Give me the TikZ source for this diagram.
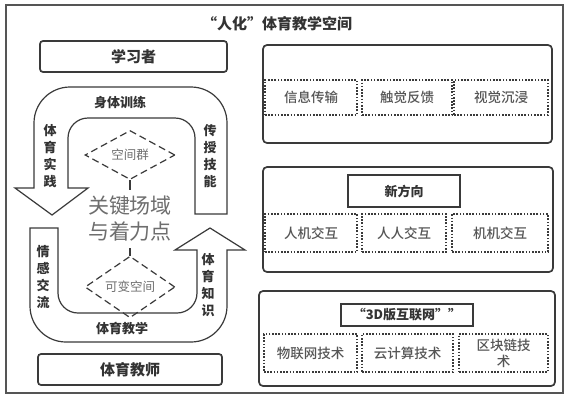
\documentclass[tikz,border=0pt]{standalone}
\usepackage{fontspec}
\setmainfont{Noto Sans CJK SC}
\newfontfamily\medfont{Noto Sans CJK SC Medium}
\usetikzlibrary{shapes.geometric}
\definecolor{lc}{HTML}{3A3A3A}
\definecolor{tc}{HTML}{333333}
\definecolor{gc}{HTML}{555555}
\definecolor{lg}{HTML}{6E6E6E}
\begin{document}
\begin{tikzpicture}[x=1pt,y=-1pt,
  panel/.style={draw=lc, line width=1.7pt, rounded corners=4pt, inner sep=0pt},
  solidbox/.style={draw=lc, line width=1.7pt, rounded corners=3pt, inner sep=0pt, font=\fontsize{15}{16}\selectfont\bfseries, text=tc},
  headbox/.style={draw=lc, line width=1.6pt, inner sep=0pt, font=\fontsize{13}{14}\selectfont\bfseries, text=tc},
  dotbox/.style={draw=lc, line width=1.6pt, dash pattern=on 1.6pt off 1.6pt, inner sep=0pt, align=center, font=\fontsize{13.5}{16}\medfont, text=gc},
  lbl/.style={font=\fontsize{13}{14}\selectfont\bfseries, text=tc, inner sep=0pt},
  vlbl/.style={font=\fontsize{13}{17}\selectfont\bfseries, text=tc, align=center, inner sep=0pt},
  dia/.style={diamond, draw=lc, line width=1.2pt, dash pattern=on 7pt off 4pt, inner sep=0pt, font=\fontsize{12.5}{13}\selectfont, text=lg},
  band/.style={draw=lc, line width=1.2pt, fill=white, line join=miter}]
\useasboundingbox (0,0) rectangle (571,400);
\fill[white] (0,0) rectangle (571,400);
% outer frame
\node[draw=gc, line width=1.2pt, minimum width=557pt, minimum height=388pt, inner sep=0pt] (frame) at (284.5,199) {};
\node[font=\fontsize{15}{16}\selectfont\bfseries, text=tc] (title) at (277,24) {“人化”体育教学空间};
% left boxes
\node[solidbox, minimum width=187pt, minimum height=31pt] (learner) at (133.5,56.5) {学习者};
\node[solidbox, minimum width=184pt, minimum height=31pt] (teacher) at (130,369.5) {体育教师};
% upper arrow
\draw[band] (195,214) -- (227,214) -- (227,123) arc[start angle=0, end angle=-90, radius=36]
  -- (70,87) arc[start angle=270, end angle=180, radius=36]
  -- (34,188) -- (15,188) -- (52,215) -- (88,188) -- (68,188)
  -- (68,138) arc[start angle=180, end angle=270, radius=20]
  -- (175,118) arc[start angle=270, end angle=360, radius=20] -- cycle;
% lower arrow
\draw[band] (30,228) -- (58,228) -- (58,293) arc[start angle=180, end angle=90, radius=20]
  -- (177,313) arc[start angle=90, end angle=0, radius=20]
  -- (197,250) -- (175,250) -- (210,228) -- (245,250) -- (227,250)
  -- (227,306) arc[start angle=0, end angle=90, radius=36]
  -- (66,342) arc[start angle=90, end angle=180, radius=36] -- cycle;
% arrow labels
\node[lbl] (l1) at (120,103) {身体训练};
\node[vlbl] (l2) at (50,156) {体\\育\\实\\践};
\node[vlbl] (l3) at (210,156) {传\\授\\技\\能};
\node[vlbl] (l4) at (43,277) {情\\感\\交\\流};
\node[vlbl] (l5) at (208,285) {体\\育\\知\\识};
\node[lbl] (l6) at (122,328) {体育教学};
% center
\node[dia, minimum width=90pt, minimum height=40pt] (d1) at (130,155) {空间群};
\node[dia, minimum width=90pt, minimum height=42pt] (d2) at (130,287) {可变空间};
\node[font=\fontsize{21}{26}\selectfont, text=lg, align=center, inner sep=0pt, minimum height=58pt] (key) at (130,219) {关键场域\\与着力点};
\draw[lc, line width=1.2pt] (d1.south) -- (key.north);
\draw[lc, line width=1.2pt] (key.south) -- (d2.north);
% panel 1
\node[panel, minimum width=289pt, minimum height=98pt] (p1) at (407.5,94) {};
\node[dotbox, minimum width=92pt, minimum height=35pt] (a1) at (311,97.5) {信息传输};
\node[dotbox, minimum width=90pt, minimum height=35pt] (a2) at (407,97.5) {触觉反馈};
\node[dotbox, minimum width=94pt, minimum height=35pt] (a3) at (501,97.5) {视觉沉浸};
% panel 2
\node[panel, minimum width=290pt, minimum height=105pt] (p2) at (408,219.5) {};
\node[headbox, minimum width=112pt, minimum height=32pt] (h2) at (404,191) {新方向};
\node[dotbox, minimum width=92pt, minimum height=38pt] (b1) at (311,233) {人机交互};
\node[dotbox, minimum width=84pt, minimum height=38pt] (b2) at (404,233) {人人交互};
\node[dotbox, minimum width=96pt, minimum height=38pt] (b3) at (500,233) {机机交互};
% panel 3
\node[panel, minimum width=296pt, minimum height=95pt] (p3) at (407,338.5) {};
\node[headbox, minimum width=132pt, minimum height=22pt] (h3) at (407,315) {“3D版互联网””};
\node[dotbox, minimum width=93pt, minimum height=38pt] (c1) at (310.5,353) {物联网技术};
\node[dotbox, minimum width=91pt, minimum height=38pt] (c2) at (407.5,353) {云计算技术};
\node[dotbox, minimum width=89pt, minimum height=38pt] (c3) at (503.5,353) {区块链技\\术};
\end{tikzpicture}
\end{document}
